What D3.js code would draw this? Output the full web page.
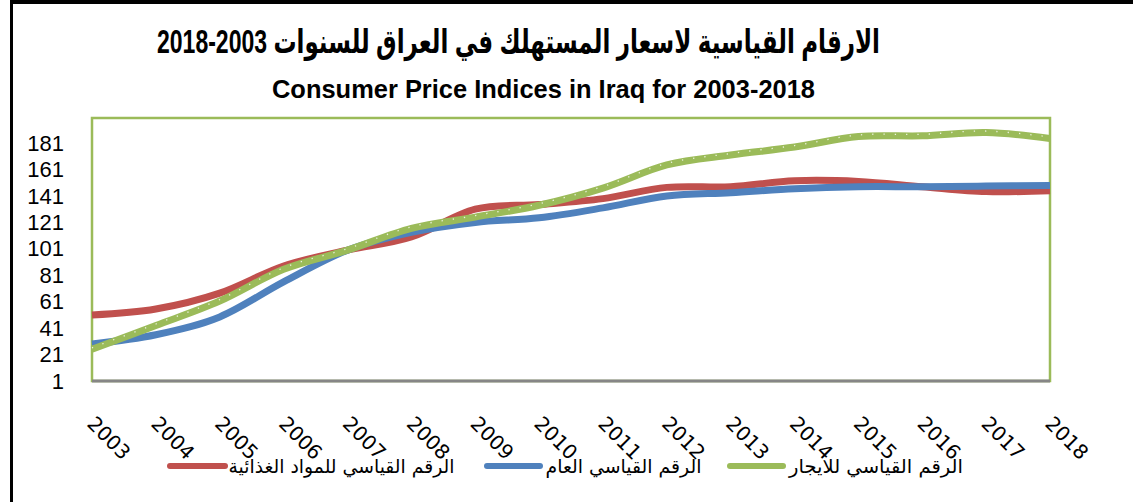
<!DOCTYPE html>
<html lang="ar">
<head>
<meta charset="utf-8">
<style>
    body { margin: 0; background: #fff; }
    svg { display: block; }
    .ytick text { font: 22px "Liberation Sans", Arial, sans-serif; fill: #000; }
    .xlab { font: 20px "DejaVu Sans", sans-serif; fill: #000; }
    .legend text { font: 19px "DejaVu Sans", sans-serif; fill: #000; }
</style>
<script src="https://cdn.jsdelivr.net/npm/d3@7"></script>
</head>
<body>
<svg width="1133" height="502"></svg>
<script>
    // values (index, 2007 = 100)
    var years = [2003, 2004, 2005, 2006, 2007, 2008, 2009, 2010, 2011, 2012, 2013, 2014, 2015, 2016, 2017, 2018];
    var food = [51, 55.5, 67.5, 88, 100, 110, 131, 134.5, 139, 147.5, 148, 152.5, 152, 148, 144.3, 145];
    var general = [29, 36, 49.5, 76, 100, 113.5, 121, 124.5, 132, 141, 143.5, 146.5, 148, 148, 148.5, 149];
    var rent = [25, 43, 61.5, 85.5, 100, 116.5, 125, 134, 147, 164.5, 172, 178, 186, 186.5, 189, 184.5];
    var yTicks = [1, 21, 41, 61, 81, 101, 121, 141, 161, 181];
    var seriesNames = ["الرقم القياسي للمواد الغذائية", "الرقم القياسي العام", "الرقم القياسي للايجار"];
    var colors = ["#C0504D", "#4F81BD", "#9BBB59"];

    var titleAr = "الارقام القياسية لاسعار المستهلك في العراق للسنوات 2003-2018";
    var titleEn = "Consumer Price Indices in Iraq for 2003-2018";

    var svg = d3.select("svg");
    var pLeft = 92, pRight = 1050, pTop = 118, pBottom = 381;

    var x = d3.scaleLinear().domain([0, years.length - 1]).range([pLeft, pRight]);
    var y = d3.scaleLinear().domain([1, 200]).range([pBottom, pTop]);

    // outer frame (only top and left show)
    svg.append("line").attr("x1", 10).attr("x2", 1133).attr("y1", 2).attr("y2", 2)
        .attr("stroke", "#000").attr("stroke-width", 4);
    svg.append("line").attr("x1", 11.5).attr("x2", 11.5).attr("y1", 0).attr("y2", 502)
        .attr("stroke", "#000").attr("stroke-width", 3);

    // titles
    svg.append("text")
        .attr("x", 518.5).attr("y", 53)
        .attr("text-anchor", "middle")
        .attr("direction", "rtl")
        .attr("textLength", 723).attr("lengthAdjust", "spacingAndGlyphs")
        .style("font", "bold 33px 'Liberation Sans', 'DejaVu Sans', sans-serif")
        .text(titleAr);

    svg.append("text")
        .attr("x", 543.5).attr("y", 98)
        .attr("text-anchor", "middle")
        .attr("textLength", 543).attr("lengthAdjust", "spacingAndGlyphs")
        .style("font", "bold 26px 'Liberation Sans Narrow', 'Liberation Sans', sans-serif")
        .text(titleEn);

    // plot area border
    svg.append("rect")
        .attr("x", pLeft).attr("y", pTop)
        .attr("width", pRight - pLeft).attr("height", pBottom - pTop)
        .attr("fill", "#fff").attr("stroke", "#9BBB59").attr("stroke-width", 2.5);
    svg.append("line").attr("x1", pLeft).attr("x2", pRight).attr("y1", pBottom).attr("y2", pBottom)
        .attr("stroke", "#868686").attr("stroke-width", 3);

    // y axis labels
    var yAxis = d3.axisLeft(y).tickValues(yTicks).tickSize(0).tickPadding(0);
    var ya = svg.append("g").attr("class", "ytick")
        .attr("transform", "translate(64,0)")
        .call(yAxis);
    ya.select(".domain").remove();
    ya.selectAll("text").attr("dy", "0.32em");

    // x labels, rotated
    svg.selectAll(".xlab")
        .data(years)
        .enter().append("text")
        .attr("class", "xlab")
        .attr("text-anchor", "middle")
        .attr("dominant-baseline", "central")
        .attr("transform", function(d, i) {
            return "translate(" + (x(i) + 17) + ",438) rotate(45)";
        })
        .text(function(d) { return d; });

    // lines
    var line = d3.line()
        .x(function(d, i) { return x(i); })
        .y(function(d) { return y(d); })
        .curve(d3.curveCardinal);

    [food, general, rent].forEach(function(s, k) {
        svg.append("path")
            .datum(s)
            .attr("d", line)
            .attr("fill", "none")
            .attr("stroke", colors[k])
            .attr("stroke-width", 7)
            .attr("stroke-linecap", "butt")
            .attr("stroke-linejoin", "round");
    });

    // the little white dots on the green line
    svg.append("path")
        .datum(rent)
        .attr("d", line)
        .attr("fill", "none")
        .attr("stroke", "#fff")
        .attr("stroke-opacity", 0.8)
        .attr("stroke-width", 1.3)
        .attr("stroke-dasharray", "1.3 10")
        .attr("transform", "translate(0,-1.5)");

    // legend
    var legend = [
        {sx: 170, ex: 225, tx: 341.5, w: 226},
        {sx: 487, ex: 540, tx: 623.5, w: 156},
        {sx: 730, ex: 783, tx: 876, w: 174}
    ];
    var lg = svg.append("g").attr("class", "legend");
    legend.forEach(function(l, k) {
        lg.append("line")
            .attr("x1", l.sx).attr("x2", l.ex).attr("y1", 466).attr("y2", 466)
            .attr("stroke", colors[k]).attr("stroke-width", 6)
            .attr("stroke-linecap", "round");
        lg.append("text")
            .attr("x", l.tx).attr("y", 466)
            .attr("text-anchor", "middle")
            .attr("direction", "rtl")
            .attr("dominant-baseline", "central")
            .attr("textLength", l.w).attr("lengthAdjust", "spacingAndGlyphs")
            .text(seriesNames[k]);
    });
</script>
</body>
</html>
